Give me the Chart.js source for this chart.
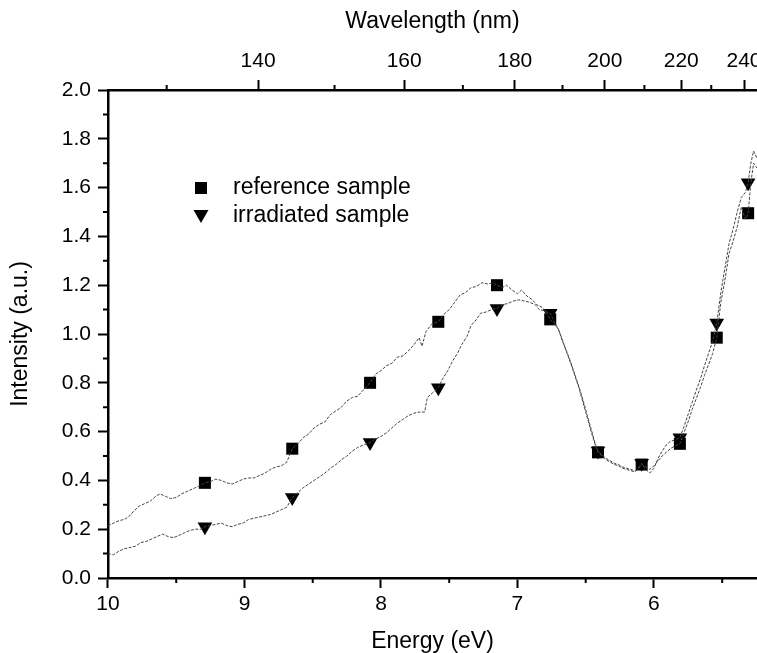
<!DOCTYPE html>
<html>
<head>
<meta charset="utf-8">
<script src="https://cdn.jsdelivr.net/npm/chart.js@4.4.1/dist/chart.umd.min.js"></script>
<style>
  body { margin: 0; background: #fff; overflow: hidden; }
  #wrap { width: 757px; height: 653px; position: relative; }
</style>
</head>
<body>
<div id="wrap"><canvas id="spectrumChart"></canvas></div>
<script>
// reference sample curve (energy in eV, intensity in a.u.)
const refEnergy = [10.00, 9.96, 9.92, 9.88, 9.84, 9.81, 9.77, 9.73, 9.69, 9.65, 9.62, 9.58, 9.54, 9.50, 9.46, 9.42, 9.38, 9.34, 9.29, 9.25,
  9.21, 9.17, 9.13, 9.09, 9.05, 9.01, 8.97, 8.93, 8.89, 8.85, 8.81, 8.77, 8.73, 8.69, 8.65, 8.61, 8.57, 8.53, 8.49, 8.45,
  8.41, 8.37, 8.33, 8.29, 8.25, 8.21, 8.17, 8.13, 8.08, 8.04, 8.00, 7.96, 7.92, 7.88, 7.84, 7.80, 7.76, 7.72, 7.70, 7.67,
  7.63, 7.58, 7.54, 7.50, 7.46, 7.42, 7.38, 7.34, 7.30, 7.26, 7.22, 7.18, 7.15, 7.11, 7.08, 7.04, 7.00, 6.97, 6.93, 6.89,
  6.86, 6.82, 6.79, 6.76, 6.73, 6.70, 6.67, 6.64, 6.61, 6.58, 6.55, 6.52, 6.49, 6.46, 6.43, 6.41, 6.38, 6.35, 6.32, 6.29,
  6.26, 6.23, 6.20, 6.17, 6.14, 6.11, 6.09, 6.06, 6.03, 6.00, 5.97, 5.94, 5.91, 5.88, 5.85, 5.81, 5.78, 5.75, 5.72, 5.69,
  5.66, 5.63, 5.60, 5.57, 5.54, 5.51, 5.48, 5.45, 5.42, 5.39, 5.36, 5.33, 5.31, 5.29, 5.27, 5.245];
const refIntensity = [0.215, 0.225, 0.235, 0.24, 0.255, 0.275, 0.295, 0.305, 0.315, 0.335, 0.345, 0.335, 0.325, 0.33, 0.345, 0.355, 0.365, 0.375, 0.39, 0.395,
  0.405, 0.40, 0.39, 0.385, 0.395, 0.405, 0.41, 0.41, 0.42, 0.43, 0.445, 0.455, 0.46, 0.475, 0.53, 0.55, 0.575, 0.59, 0.615, 0.63,
  0.64, 0.67, 0.685, 0.70, 0.725, 0.74, 0.745, 0.77, 0.80, 0.835, 0.85, 0.87, 0.88, 0.905, 0.91, 0.93, 0.955, 0.985, 0.95, 1.01,
  1.04, 1.05, 1.08, 1.10, 1.13, 1.16, 1.17, 1.19, 1.195, 1.21, 1.205, 1.21, 1.20, 1.19, 1.20, 1.18, 1.165, 1.18, 1.155, 1.14,
  1.12, 1.11, 1.09, 1.06, 1.04, 1.02, 0.975, 0.925, 0.88, 0.83, 0.78, 0.72, 0.66, 0.60, 0.545, 0.515, 0.50, 0.485, 0.475, 0.465,
  0.46, 0.45, 0.445, 0.44, 0.435, 0.45, 0.465, 0.455, 0.445, 0.46, 0.48, 0.50, 0.515, 0.53, 0.54, 0.55, 0.595, 0.64, 0.69, 0.735,
  0.78, 0.83, 0.875, 0.92, 0.985, 1.13, 1.22, 1.33, 1.38, 1.44, 1.52, 1.47, 1.495, 1.62, 1.70, 1.68];

// irradiated sample curve
const irrEnergy = [10.00, 9.96, 9.92, 9.88, 9.84, 9.80, 9.76, 9.72, 9.68, 9.64, 9.60, 9.56, 9.52, 9.48, 9.44, 9.40, 9.36, 9.32, 9.29, 9.25,
  9.21, 9.17, 9.13, 9.09, 9.05, 9.01, 8.97, 8.93, 8.89, 8.85, 8.81, 8.77, 8.73, 8.69, 8.65, 8.61, 8.57, 8.53, 8.49, 8.45,
  8.41, 8.37, 8.33, 8.29, 8.25, 8.21, 8.17, 8.13, 8.08, 8.04, 8.00, 7.96, 7.92, 7.88, 7.84, 7.80, 7.76, 7.72, 7.68, 7.66,
  7.62, 7.58, 7.55, 7.51, 7.48, 7.44, 7.41, 7.37, 7.34, 7.30, 7.27, 7.23, 7.19, 7.15, 7.11, 7.07, 7.03, 6.99, 6.95, 6.91,
  6.87, 6.84, 6.80, 6.76, 6.73, 6.70, 6.67, 6.64, 6.61, 6.58, 6.55, 6.52, 6.49, 6.46, 6.43, 6.41, 6.38, 6.35, 6.32, 6.29,
  6.26, 6.23, 6.20, 6.17, 6.14, 6.11, 6.09, 6.06, 6.03, 6.00, 5.97, 5.94, 5.91, 5.88, 5.85, 5.81, 5.78, 5.75, 5.72, 5.69,
  5.66, 5.63, 5.60, 5.57, 5.54, 5.51, 5.48, 5.45, 5.42, 5.39, 5.36, 5.33, 5.31, 5.29, 5.27, 5.245];
const irrIntensity = [0.10, 0.095, 0.11, 0.12, 0.125, 0.13, 0.145, 0.15, 0.16, 0.17, 0.18, 0.17, 0.165, 0.175, 0.185, 0.195, 0.20, 0.20, 0.21, 0.215,
  0.22, 0.225, 0.215, 0.21, 0.22, 0.225, 0.24, 0.245, 0.25, 0.255, 0.26, 0.27, 0.28, 0.29, 0.33, 0.35, 0.37, 0.385, 0.40, 0.415,
  0.43, 0.45, 0.465, 0.485, 0.50, 0.52, 0.535, 0.545, 0.555, 0.57, 0.58, 0.595, 0.615, 0.635, 0.65, 0.665, 0.675, 0.68, 0.68, 0.74,
  0.76, 0.78, 0.815, 0.85, 0.885, 0.92, 0.955, 0.99, 1.035, 1.06, 1.085, 1.09, 1.10, 1.105, 1.12, 1.125, 1.135, 1.14, 1.135, 1.13,
  1.12, 1.10, 1.095, 1.085, 1.05, 1.02, 0.97, 0.93, 0.885, 0.835, 0.785, 0.73, 0.67, 0.61, 0.55, 0.52, 0.505, 0.49, 0.48, 0.47,
  0.465, 0.455, 0.45, 0.445, 0.44, 0.455, 0.47, 0.445, 0.43, 0.45, 0.49, 0.52, 0.545, 0.56, 0.565, 0.575, 0.62, 0.67, 0.72, 0.77,
  0.815, 0.87, 0.92, 0.97, 1.045, 1.17, 1.27, 1.37, 1.43, 1.50, 1.56, 1.58, 1.62, 1.70, 1.75, 1.72];

// symbols drawn on top of the curves
const refMarkE = [9.29, 8.65, 8.08, 7.58, 7.15, 6.76, 6.41, 6.09, 5.81, 5.54, 5.31];
const refMarkI = [0.39, 0.53, 0.80, 1.05, 1.20, 1.06, 0.515, 0.465, 0.55, 0.985, 1.495];
const irrMarkE = [9.29, 8.65, 8.08, 7.58, 7.15, 6.76, 6.41, 6.09, 5.81, 5.54, 5.31];
const irrMarkI = [0.21, 0.33, 0.555, 0.78, 1.105, 1.085, 0.52, 0.47, 0.575, 1.045, 1.62];

// axes
const energyMajor = [10, 9, 8, 7, 6];
const energyMinor = [9.5, 8.5, 7.5, 6.5, 5.5];
const intensityMinor = [0.1, 0.3, 0.5, 0.7, 0.9, 1.1, 1.3, 1.5, 1.7, 1.9];
const wavelengthLabels = ['140', '160', '180', '200', '220', '240'];
const wavelengthAtEnergy = [8.90, 7.83, 7.02, 6.36, 5.80, 5.34];
const wavelengthMinorAtEnergy = [9.57, 8.34, 7.40, 6.67, 6.07, 5.58];

const legendItems = ['reference sample', 'irradiated sample'];

const fontFamily = '"Liberation Sans", Arial, sans-serif';

function toPoints(xs, ys) {
    return xs.map((x, i) => ({ x: x, y: ys[i] }));
}

const minorTicks = {
    id: 'minorTicks',
    afterDraw(chart) {
        const ctx = chart.ctx;
        const xs = chart.scales.x, top = chart.scales.x2, ys = chart.scales.y;
        const len = 5;
        ctx.save();
        ctx.strokeStyle = '#000';
        ctx.lineWidth = 2;
        ctx.beginPath();
        energyMinor.forEach(v => {
            const px = xs.getPixelForValue(v);
            ctx.moveTo(px, xs.top);
            ctx.lineTo(px, xs.top + len);
        });
        wavelengthMinorAtEnergy.forEach(v => {
            const px = top.getPixelForValue(v);
            ctx.moveTo(px, top.bottom);
            ctx.lineTo(px, top.bottom - len);
        });
        intensityMinor.forEach(v => {
            const py = ys.getPixelForValue(v);
            ctx.moveTo(ys.right, py);
            ctx.lineTo(ys.right - len, py);
        });
        ctx.stroke();
        ctx.restore();
    }
};

const innerLegend = {
    id: 'innerLegend',
    afterDraw(chart) {
        const ctx = chart.ctx;
        const area = chart.chartArea;
        const mx = area.left + 93;
        const y0 = area.top + 98;
        const gap = 28;
        ctx.save();
        ctx.fillStyle = '#000';
        ctx.fillRect(mx - 6, y0 - 6, 12, 12);
        ctx.beginPath();
        ctx.moveTo(mx - 7.5, y0 + gap - 6);
        ctx.lineTo(mx + 7.5, y0 + gap - 6);
        ctx.lineTo(mx, y0 + gap + 7);
        ctx.closePath();
        ctx.fill();
        ctx.font = '23px ' + fontFamily;
        ctx.textBaseline = 'middle';
        legendItems.forEach((t, i) => ctx.fillText(t, mx + 32, y0 + i * gap));
        ctx.restore();
    }
};

const axisFont = { family: fontFamily, size: 21 };
const titleFont = { family: fontFamily, size: 23, lineHeight: 1.0 };
const noSidePadding = s => { s.paddingLeft = 0; s.paddingRight = 0; };

document.addEventListener('DOMContentLoaded', () => {
    const ctx = document.getElementById('spectrumChart').getContext('2d');
    new Chart(ctx, {
        type: 'line',
        data: {
            datasets: [
                {
                    label: legendItems[0],
                    data: toPoints(refEnergy, refIntensity),
                    borderColor: '#444',
                    borderWidth: 1,
                    borderDash: [3, 1.5],
                    pointRadius: 0,
                    tension: 0
                },
                {
                    label: legendItems[1],
                    data: toPoints(irrEnergy, irrIntensity),
                    borderColor: '#444',
                    borderWidth: 1,
                    borderDash: [3, 1.5],
                    pointRadius: 0,
                    tension: 0
                },
                {
                    data: toPoints(refMarkE, refMarkI),
                    showLine: false,
                    pointStyle: 'rect',
                    pointRadius: 8.5,
                    backgroundColor: '#000',
                    borderColor: '#000',
                    borderWidth: 0
                },
                {
                    data: toPoints(irrMarkE, irrMarkI),
                    showLine: false,
                    pointStyle: 'triangle',
                    pointRotation: 180,
                    pointRadius: 8.5,
                    backgroundColor: '#000',
                    borderColor: '#000',
                    borderWidth: 0
                }
            ]
        },
        options: {
            responsive: true,
            maintainAspectRatio: false,
            animation: false,
            layout: { padding: 0, autoPadding: false },
            plugins: {
                legend: { display: false },
                tooltip: { enabled: false }
            },
            scales: {
                x: {
                    type: 'linear',
                    position: 'bottom',
                    reverse: true,
                    min: 5.245,
                    max: 10,
                    afterBuildTicks: scale => { scale.ticks = energyMajor.map(v => ({ value: v })); },
                    afterFit: noSidePadding,
                    ticks: { font: axisFont, color: '#000', padding: 4, autoSkip: false, maxRotation: 0 },
                    grid: { drawOnChartArea: false, tickLength: 10, tickWidth: 2, tickColor: '#000' },
                    border: { display: true, width: 2.5, color: '#000' },
                    title: { display: true, text: 'Energy (eV)', font: titleFont, color: '#000', padding: { top: 8.8, bottom: 0 } }
                },
                x2: {
                    type: 'linear',
                    position: 'top',
                    reverse: true,
                    min: 5.245,
                    max: 10,
                    afterBuildTicks: scale => { scale.ticks = wavelengthAtEnergy.map(v => ({ value: v })); },
                    afterFit: noSidePadding,
                    ticks: {
                        font: axisFont, color: '#000', padding: 6, autoSkip: false, maxRotation: 0,
                        callback: (value, index) => wavelengthLabels[index]
                    },
                    grid: { drawOnChartArea: false, tickLength: 10, tickWidth: 2, tickColor: '#000' },
                    border: { display: true, width: 2.5, color: '#000' },
                    title: { display: true, text: 'Wavelength (nm)', font: titleFont, color: '#000', padding: { top: 10.5, bottom: 9.3 } }
                },
                y: {
                    min: 0,
                    max: 2,
                    ticks: {
                        stepSize: 0.2, font: axisFont, color: '#000', padding: 7,
                        callback: v => v.toFixed(1)
                    },
                    grid: { drawOnChartArea: false, tickLength: 10, tickWidth: 2, tickColor: '#000' },
                    border: { display: true, width: 2.5, color: '#000' },
                    title: { display: true, text: 'Intensity (a.u.)', font: titleFont, color: '#000', padding: { top: 9.5, bottom: 22.3 } }
                }
            }
        },
        plugins: [minorTicks, innerLegend]
    });
});
</script>
</body>
</html>
